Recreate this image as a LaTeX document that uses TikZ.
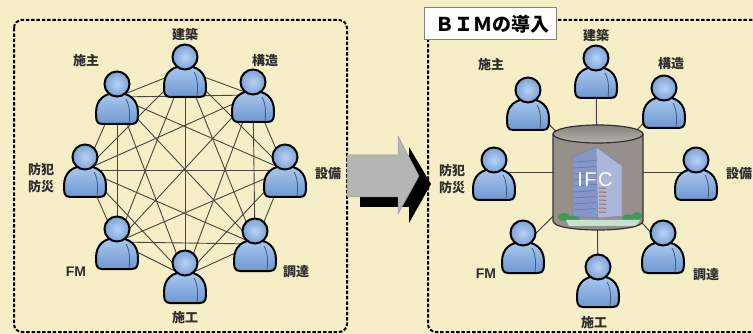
\documentclass[tikz,border=0pt]{standalone}
\usepackage{fontspec}
\newfontfamily\jp{Noto Sans CJK JP}
\newfontfamily\lat{Liberation Sans}
\definecolor{bg}{HTML}{F5EEC7}
\definecolor{bodylight}{HTML}{A9C8EF}
\definecolor{bodydark}{HTML}{6E98D0}
\definecolor{headlight}{HTML}{B9D3F3}
\definecolor{headdark}{HTML}{7AA2D8}
\definecolor{linkcol}{HTML}{4A443E}
\definecolor{cylgray}{HTML}{978F8B}
\definecolor{cyltop}{HTML}{B8B0AA}
\definecolor{arrowgray}{HTML}{B5B5B3}
\definecolor{txt}{HTML}{2E2E2E}
\definecolor{shrub}{HTML}{3C9A5A}
\definecolor{plinth}{HTML}{C8E0CE}
\definecolor{towerleft}{HTML}{8696C8}
\definecolor{towerleftedge}{HTML}{6E7CAF}
\definecolor{towerright}{HTML}{ACB6D8}
\definecolor{towerrightedge}{HTML}{828CB9}
\definecolor{towerwin}{HTML}{606EA5}
\definecolor{towerstripe}{HTML}{A06E5F}
\tikzset{
  lbl/.style={font=\jp\bfseries\fontsize{13}{16}\selectfont, text=txt, inner sep=0pt, align=center},
  latlbl/.style={font=\lat\bfseries\fontsize{14}{16}\selectfont, text=txt, inner sep=0pt},
  link/.style={draw=linkcol, line width=0.9pt},
  dbox/.style={draw=black, line width=2pt, dash pattern=on 3.5pt off 1.8pt, rounded corners=8pt},
  personbody/.style={draw=black, line width=2pt, top color=bodylight, bottom color=bodydark},
  personhead/.style={draw=black, line width=2pt, inner color=headlight, outer color=headdark},
  crease/.style={draw=bodydark!60!black, line width=0.8pt},
  person/.pic={
    \path[personbody] (-15,27) .. controls (-21,27) and (-21,22) .. (-21,16)
      .. controls (-21,2) and (-12,-4) .. (0,-4)
      .. controls (12,-4) and (21,2) .. (21,16)
      .. controls (21,22) and (21,27) .. (15,27) -- cycle;
    \draw[crease] (9,2) .. controls (13,9) and (13,18) .. (12,26);
    \path[personhead] (0,-13) circle (12.5);
  }
}
\begin{document}
\begin{tikzpicture}[x=1pt,y=-1pt]
  \useasboundingbox (0,0) rectangle (753,334);
  \fill[bg] (0,0) rectangle (753,334);

  % ---------- left: everyone exchanges with everyone ----------
  \draw[dbox] (14,20) rectangle (347,332);
  \coordinate (L1) at (185,70);
  \coordinate (L2) at (253,95);
  \coordinate (L3) at (285,170);
  \coordinate (L4) at (255,244);
  \coordinate (L5) at (185,276);
  \coordinate (L6) at (117,242);
  \coordinate (L7) at (85,170);
  \coordinate (L8) at (117,97);
  \foreach \i [evaluate=\i as \k using int(\i+1)] in {1,...,7}
    \foreach \j in {\k,...,8}
      \draw[link] (L\i) -- (L\j);
  \foreach \i in {1,...,8}
    \pic at (L\i) {person};

  \node[lbl] (tL1) at (185,35) {建築};
  \node[lbl] (tL2) at (265,61) {構造};
  \node[lbl] (tL3) at (328,174) {設備};
  \node[lbl] (tL4) at (296,272) {調達};
  \node[lbl] (tL5) at (185,318) {施工};
  \node[latlbl] (tL6) at (76,272) {FM};
  \node[lbl] (tL7) at (41,178) {防犯\\[1pt]防災};
  \node[lbl] (tL8) at (86,61) {施主};

  % ---------- transition arrow ----------
  \fill[black] (360,165) -- (409,165) -- (409,147) -- (431,184) -- (409,223) -- (409,207) -- (360,207) -- cycle;
  \path[fill=arrowgray, draw=arrowgray!85!black, line width=0.5pt]
    (347,155) -- (398,155) -- (398,136) -- (419,176) -- (398,214) -- (398,197) -- (347,197) -- cycle;

  % ---------- right: shared IFC model ----------
  \draw[dbox] (428,20) rectangle (775,332);
  \path[draw=gray, line width=0.8pt, fill=white] (424,7) rectangle (556,39);
  \node[font=\jp\bfseries\fontsize{19}{20}\selectfont, inner sep=0pt] (bim) at (492,24) {ＢＩＭの導入};

  \coordinate (C) at (597,173);
  \coordinate (R1) at (596,71);
  \coordinate (R2) at (664,101);
  \coordinate (R3) at (696,173);
  \coordinate (R4) at (663,246);
  \coordinate (R5) at (598,280);
  \coordinate (R6) at (523,246);
  \coordinate (R7) at (494,173);
  \coordinate (R8) at (528,103);
  \foreach \i in {1,...,8}
    \draw[link, line width=1pt] (C) -- (R\i);

  % cylinder
  \path[fill=cylgray] (553,134) -- (553,221) .. controls (553,233) and (643,233) .. (643,221) -- (643,134) -- cycle;
  % building inside the cylinder
  \path[fill=shrub] (564,217) ellipse [x radius=6, y radius=4];
  \path[fill=shrub] (574,219) ellipse [x radius=6, y radius=3.5];
  \path[fill=shrub] (628,218) ellipse [x radius=6, y radius=3.5];
  \path[fill=shrub] (637,216) ellipse [x radius=5, y radius=4];
  \path[fill=plinth] (566,220) -- (640,220) -- (636,226) -- (569,226) -- cycle;
  \path[fill=towerleft, draw=towerleftedge, line width=0.4pt]
    (573,157) -- (596,147) -- (598,218) -- (573,216) -- cycle;
  \path[fill=towerright, draw=towerrightedge, line width=0.4pt]
    (596,147) -- (622,166) -- (622,216) -- (598,218) -- cycle;
  \foreach \y in {162,168,...,212}
    \draw[towerwin, line width=0.5pt] (574,\y) -- (596,\y-1.5);
  \foreach \y in {188,192,...,212}
    \draw[towerstripe, line width=1pt] (599,\y) -- (606,\y+0.3);
  \node[font=\lat\fontsize{20}{22}\selectfont, text=white, inner sep=0pt] (ifc) at (595,180) {I\kern1.5pt F\kern1.5pt C};
  % cylinder outline and lid
  \draw[black!80, line width=1.2pt] (553,134) -- (553,221) .. controls (553,233) and (643,233) .. (643,221) -- (643,134);
  \path[draw=black!80, line width=1.2pt, top color=cylgray!90!black, bottom color=cyltop] (598,134) ellipse [x radius=45, y radius=9];

  \foreach \i in {1,...,8}
    \pic at (R\i) {person};

  \node[lbl] (tR1) at (596,36) {建築};
  \node[lbl] (tR2) at (671,64) {構造};
  \node[lbl] (tR3) at (739,174) {設備};
  \node[lbl] (tR4) at (706,275) {調達};
  \node[lbl] (tR5) at (594,323) {施工};
  \node[latlbl] (tR6) at (486,274) {FM};
  \node[lbl] (tR7) at (452,179) {防犯\\[1pt]防災};
  \node[lbl] (tR8) at (491,65) {施主};
\end{tikzpicture}
\end{document}
